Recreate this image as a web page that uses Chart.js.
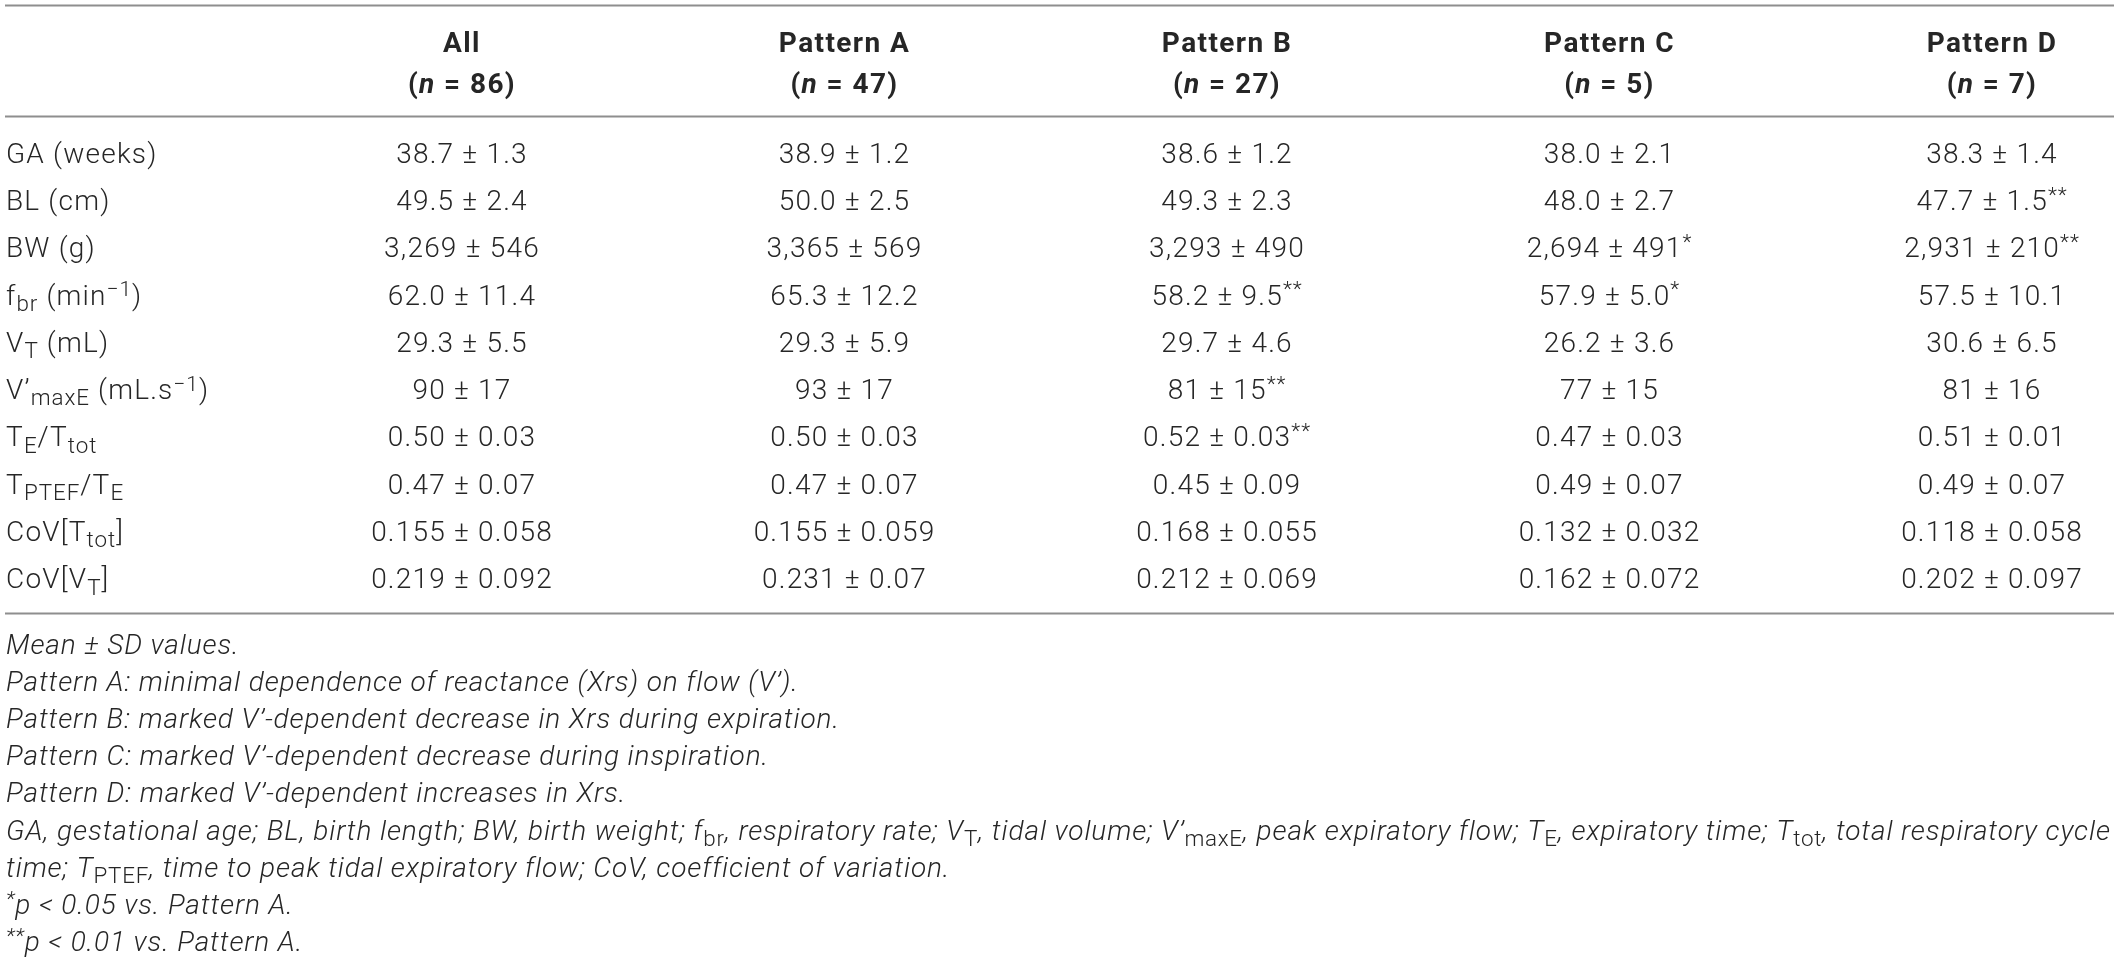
<!DOCTYPE html>
<html>
<head>
<meta charset="utf-8">
<title>Breathing pattern by Xrs pattern</title>
<script src="https://cdn.jsdelivr.net/npm/chart.js@4.4.1/dist/chart.umd.min.js"></script>
<style>
  html, body { margin: 0; padding: 0; background: #fff; overflow: hidden; }
  #wrap { width: 2118px; height: 961px; position: relative; }
</style>
</head>
<body>
<div id="wrap"><canvas id="tableChart"></canvas></div>
<script>
// _{..} = subscript, ^{..} = superscript, %{..} = italic
const columns = ["All", "Pattern A", "Pattern B", "Pattern C", "Pattern D"];
const groupSizes = [86, 47, 27, 5, 7];

const rowLabels = [
    "GA (weeks)",
    "BL (cm)",
    "BW (g)",
    "f_{br} (min^{\u22121})",
    "V_{T} (mL)",
    "V\u2019_{maxE} (mL.s^{\u22121})",
    "T_{E}/T_{tot}",
    "T_{PTEF}/T_{E}",
    "CoV[T_{tot}]",
    "CoV[V_{T}]"
];

const allValues = ["38.7 ± 1.3", "49.5 ± 2.4", "3,269 ± 546", "62.0 ± 11.4", "29.3 ± 5.5",
    "90 ± 17", "0.50 ± 0.03", "0.47 ± 0.07", "0.155 ± 0.058", "0.219 ± 0.092"];
const patternAValues = ["38.9 ± 1.2", "50.0 ± 2.5", "3,365 ± 569", "65.3 ± 12.2", "29.3 ± 5.9",
    "93 ± 17", "0.50 ± 0.03", "0.47 ± 0.07", "0.155 ± 0.059", "0.231 ± 0.07"];
const patternBValues = ["38.6 ± 1.2", "49.3 ± 2.3", "3,293 ± 490", "58.2 ± 9.5^{**}", "29.7 ± 4.6",
    "81 ± 15^{**}", "0.52 ± 0.03^{**}", "0.45 ± 0.09", "0.168 ± 0.055", "0.212 ± 0.069"];
const patternCValues = ["38.0 ± 2.1", "48.0 ± 2.7", "2,694 ± 491^{*}", "57.9 ± 5.0^{*}", "26.2 ± 3.6",
    "77 ± 15", "0.47 ± 0.03", "0.49 ± 0.07", "0.132 ± 0.032", "0.162 ± 0.072"];
const patternDValues = ["38.3 ± 1.4", "47.7 ± 1.5^{**}", "2,931 ± 210^{**}", "57.5 ± 10.1", "30.6 ± 6.5",
    "81 ± 16", "0.51 ± 0.01", "0.49 ± 0.07", "0.118 ± 0.058", "0.202 ± 0.097"];

const footnotes = [
    "Mean ± SD values.",
    "Pattern A: minimal dependence of reactance (Xrs) on flow (V\u2019).",
    "Pattern B: marked V\u2019-dependent decrease in Xrs during expiration.",
    "Pattern C: marked V\u2019-dependent decrease during inspiration.",
    "Pattern D: marked V\u2019-dependent increases in Xrs.",
    "GA, gestational age; BL, birth length; BW, birth weight; f_{br}, respiratory rate; V_{T}, tidal volume; V\u2019_{maxE}, peak expiratory flow; T_{E}, expiratory time; T_{tot}, total respiratory cycle",
    "time; T_{PTEF}, time to peak tidal expiratory flow; CoV, coefficient of variation.",
    "^{*}p < 0.05 vs. Pattern A.",
    "^{**}p < 0.01 vs. Pattern A."
];

const columnValues = [allValues, patternAValues, patternBValues, patternCValues, patternDValues];

const FONT = "\"Roboto\", \"Liberation Sans\", Arial, sans-serif";
const TEXT_COLOR = "#262626";
const RULE_COLOR = "#8e8e8e";

// split a marked-up string into pieces
function parseRich(s) {
    const out = [];
    const re = /([_^%])\{([^}]*)\}/g;
    let last = 0, m;
    while ((m = re.exec(s))) {
        if (m.index > last) out.push({ t: s.slice(last, m.index), k: "" });
        out.push({ t: m[2], k: m[1] === "_" ? "sub" : (m[1] === "^" ? "sup" : "it") });
        last = re.lastIndex;
    }
    if (last < s.length) out.push({ t: s.slice(last), k: "" });
    return out;
}

function segSize(seg, o) {
    if (seg.k === "sub") return o.size * 0.8;
    if (seg.k === "sup") return o.size * 0.75;
    return o.size;
}

function segFont(seg, o) {
    let style = o.style || "normal";
    if (seg.k === "it") style = "italic";
    if (seg.k === "sub" && o.uprightSub) style = "normal";
    return style + " " + (o.weight || "300") + " " + segSize(seg, o).toFixed(1) + "px " + FONT;
}

function setSpacing(ctx, px) {
    if ("letterSpacing" in ctx) ctx.letterSpacing = px.toFixed(2) + "px";
}

function richWidth(ctx, segs, o) {
    let total = 0;
    segs.forEach(seg => {
        ctx.font = segFont(seg, o);
        setSpacing(ctx, (o.spacing || 0) * segSize(seg, o) / o.size);
        seg.w = ctx.measureText(seg.t).width;
        total += seg.w;
    });
    return total;
}

function drawRich(ctx, s, x, y, o) {
    const segs = parseRich(s);
    const total = richWidth(ctx, segs, o);
    let px = o.align === "center" ? x - total / 2 : x;
    ctx.fillStyle = TEXT_COLOR;
    ctx.textAlign = "left";
    ctx.textBaseline = "alphabetic";
    segs.forEach(seg => {
        ctx.font = segFont(seg, o);
        setSpacing(ctx, (o.spacing || 0) * segSize(seg, o) / o.size);
        let dy = 0;
        if (seg.k === "sub") dy = o.size * 0.22;
        if (seg.k === "sup") dy = -o.size * 0.3;
        ctx.fillText(seg.t, px, y + dy);
        px += seg.w;
    });
    setSpacing(ctx, 0);
}

const tablePlugin = {
    id: "tableCells",
    beforeDraw(chart) {
        const c = chart.ctx;
        c.save();
        c.fillStyle = "#ffffff";
        c.fillRect(0, 0, chart.width, chart.height);
        c.restore();
    },
    afterDraw(chart) {
        const ctx = chart.ctx;
        const x = chart.scales.x;
        const y = chart.scales.y;
        const area = chart.chartArea;
        ctx.save();

        // horizontal rules
        ctx.strokeStyle = RULE_COLOR;
        ctx.lineWidth = 2;
        [area.top - 123.5, area.top - 12.5, area.bottom + 11.5].forEach(ly => {
            ctx.beginPath();
            ctx.moveTo(5, ly);
            ctx.lineTo(chart.width - 4, ly);
            ctx.stroke();
        });

        // header
        const head = { size: 28, weight: "bold", align: "center", spacing: 1.4 };
        columns.forEach((name, i) => {
            const px = x.getPixelForValue(i);
            drawRich(ctx, name, px, area.top - 77.5, head);
            drawRich(ctx, "(%{n} = " + groupSizes[i] + ")", px, area.top - 36.5, head);
        });

        // body
        const body = { size: 28, spacing: 1.2 };
        rowLabels.forEach((label, r) => {
            const py = y.getPixelForValue(r) + 10;
            drawRich(ctx, label, 6, py, Object.assign({ align: "left" }, body));
            columnValues.forEach((vals, c) => {
                drawRich(ctx, vals[r], x.getPixelForValue(c), py, Object.assign({ align: "center" }, body));
            });
        });

        // notes under the table; the long line fills the full width
        const note = { size: 28, style: "italic", align: "left", uprightSub: true, spacing: 0 };
        const longSegs = parseRich(footnotes[5]);
        const natural = richWidth(ctx, longSegs, note);
        const chars = longSegs.reduce((n, s) => n + s.t.length, 0);
        note.spacing = Math.max(0, (chart.width - 12 - natural) / chars);
        footnotes.forEach((line, i) => {
            drawRich(ctx, line, 6, area.bottom + 51.5 + i * 37.2, note);
        });

        ctx.restore();
    }
};

new Chart(document.getElementById("tableChart"), {
    type: "bar",
    data: {
        labels: columns,
        datasets: []
    },
    options: {
        responsive: true,
        maintainAspectRatio: false,
        animation: false,
        events: [],
        layout: {
            padding: { left: 462, right: 126, top: 129, bottom: 359 }
        },
        plugins: {
            legend: { display: false },
            tooltip: { enabled: false }
        },
        scales: {
            x: { type: "category", offset: false, display: false },
            y: { type: "category", labels: rowLabels, offset: true, display: false }
        }
    },
    plugins: [tablePlugin]
});
</script>
</body>
</html>
